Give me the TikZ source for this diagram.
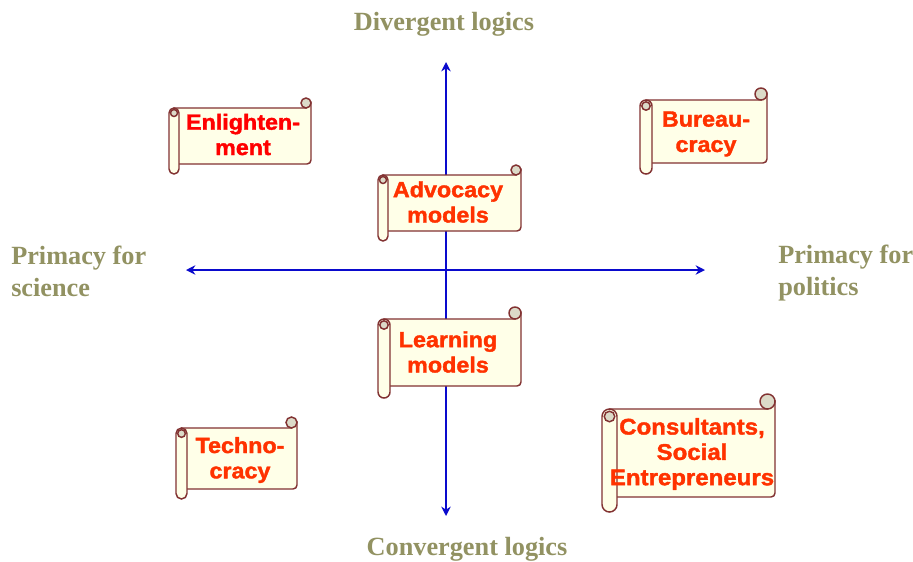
\documentclass[tikz,border=0pt]{standalone}
\usepackage{fontspec}
\setmainfont{Liberation Serif}
\newfontfamily\scrollfont[FakeBold=1.6,FakeStretch=1.06]{Liberation Sans}
\usepackage{tikz}
\usetikzlibrary{arrows.meta}
\definecolor{axisblue}{RGB}{10,10,205}
\definecolor{scrolledge}{RGB}{130,50,50}
\definecolor{scrollfill}{RGB}{255,255,232}
\definecolor{curlfill}{RGB}{220,218,200}
\definecolor{labelolive}{RGB}{146,146,98}
\definecolor{orangered}{RGB}{255,50,0}
\tikzset{
	axis/.style={draw=axisblue, line width=2.1pt, {Stealth[length=7pt,width=7pt]}-{Stealth[length=7pt,width=7pt]}},
	scrollline/.style={draw=scrolledge, line width=1.1pt, fill=scrollfill},
	scrollcurl/.style={draw=scrolledge, line width=1.1pt, fill=curlfill},
	scrolltext/.style={align=center, font=\scrollfont\bfseries\fontsize{16.5}{19}\selectfont, text=orangered, inner sep=0pt},
	sidelabel/.style={align=left, font=\bfseries\fontsize{19.7}{24}\selectfont, text=labelolive, inner sep=0pt},
	endlabel/.style={font=\bfseries\fontsize{19.7}{24}\selectfont, text=labelolive, inner sep=0pt},
}
% left, top, right, bottom, bottom of roll, width of roll
\newcommand{\scrollbox}[6]{
	\pgfmathsetmacro{\rr}{#6/2}
	\draw[scrollline] (#1+\rr,#2) -- (#3-\rr,#2) -- (#3,#2-\rr) [rounded corners=3pt] -- (#3,#4) -- (#1+\rr,#4) [sharp corners] -- cycle;
	\draw[scrollcurl] (#3-\rr,#2-\rr) circle (\rr);
	\draw[scrollline, rounded corners=\rr*0.75pt] (#1,#2) rectangle (#1+#6,#5);
	\draw[scrollcurl] (#1+\rr,#2+\rr) circle (\rr*0.7);
}
\begin{document}
\begin{tikzpicture}[x=.75pt, y=-.75pt]
	\useasboundingbox (0,0) rectangle (913,561);
	\fill[white] (0,0) rectangle (913,561);
	%
	\coordinate (axistop) at (446,62);
	\coordinate (axisbottom) at (446,516);
	\coordinate (axisleft) at (186,270);
	\coordinate (axisright) at (705,270);
	\draw[axis] (axisbottom) -- (axistop);
	\draw[axis] (axisleft) -- (axisright);
	%
	\node[endlabel] (divergent) at (444,24) {Divergent logics};
	\node[endlabel] (convergent) at (467,549) {Convergent logics};
	\node[sidelabel, anchor=west] (science) at (11,271) {Primacy for\\science};
	\node[sidelabel, anchor=west] (politics) at (778,273) {Primacy for\\politics};
	%
	\scrollbox{169}{108}{311}{164}{174}{10}
	\node[scrolltext, text=red] (enlightenment) at (243,134.5) {Enlighten-\\ment};
	%
	\scrollbox{640}{100}{767}{163}{174}{12}
	\node[scrolltext] (bureaucracy) at (706,134) {Bureau-\\cracy};
	%
	\scrollbox{378}{175}{521}{231}{241}{10}
	\node[scrolltext] (advocacy) at (448,202) {Advocacy\\models};
	%
	\scrollbox{378}{319}{521}{386}{398}{12}
	\node[scrolltext] (learning) at (448,352) {Learning\\models};
	%
	\scrollbox{176}{428}{297}{489}{499}{11}
	\node[scrolltext] (technocracy) at (240,460) {Techno-\\cracy};
	%
	\scrollbox{602}{409}{775}{497}{512}{15}
	\node[scrolltext, font=\scrollfont\bfseries\fontsize{17}{19}\selectfont] (consultants) at (692,454) {Consultants,\\Social\\Entrepreneurs};
\end{tikzpicture}
\end{document}
